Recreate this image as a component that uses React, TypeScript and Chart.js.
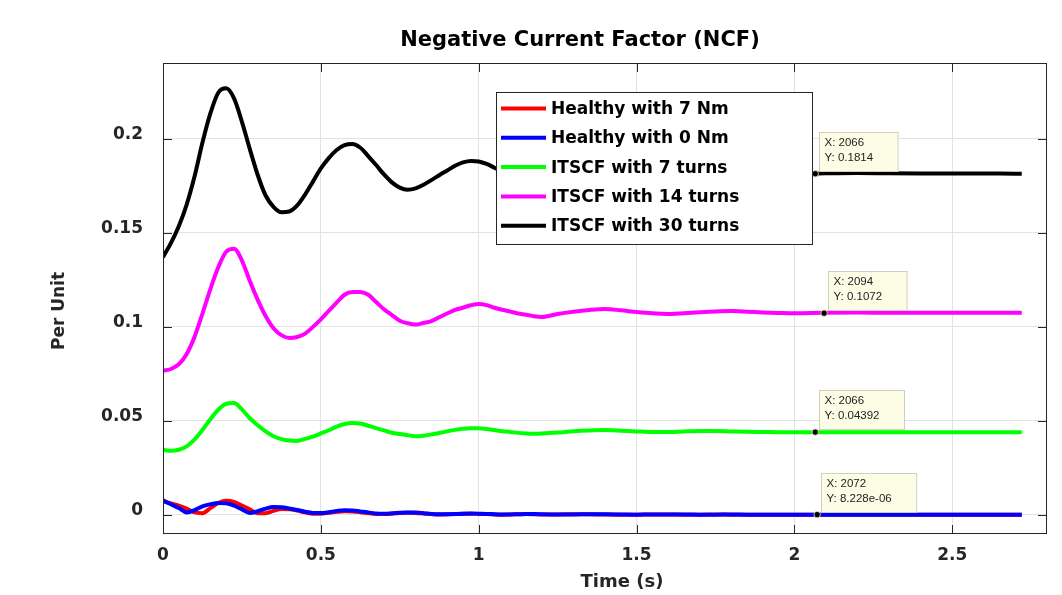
import React, { useEffect, useRef } from "react";
import { Chart, registerables } from "chart.js";

Chart.register(...registerables);

// ---- data (time in seconds, values in per unit) ----
const timeS = [
  0, 0.025, 0.05, 0.075, 0.1, 0.125, 0.15, 0.175, 0.2, 0.225,
  0.25, 0.275, 0.3, 0.325, 0.35, 0.375, 0.4, 0.425, 0.45, 0.475,
  0.5, 0.525, 0.55, 0.575, 0.6, 0.625, 0.65, 0.675, 0.7, 0.725,
  0.75, 0.775, 0.8, 0.825, 0.85, 0.875, 0.9, 0.925, 0.95, 0.975,
  1.0, 1.025, 1.05, 1.075, 1.1, 1.125, 1.15, 1.175, 1.2,
  1.25, 1.3, 1.35, 1.4, 1.45, 1.5, 1.55, 1.6, 1.65, 1.7,
  1.75, 1.8, 1.85, 1.9, 1.95, 2.0, 2.05,
  2.1, 2.2, 2.3, 2.4, 2.5, 2.6, 2.7, 2.72,
];

const healthy7Nm = [
  0.0072, 0.006, 0.0048, 0.0032, 0.0012, 0.0008, 0.0035, 0.0062, 0.0074, 0.0068,
  0.0048, 0.0028, 0.0008, 0.0008, 0.002, 0.003, 0.0029, 0.0022, 0.0012, 0.0005,
  0.0005, 0.001, 0.0015, 0.0018, 0.0017, 0.0013, 0.0008, 0.0004, 0.0003, 0.0005,
  0.0009, 0.001, 0.0009, 0.0006, 0.0003, 0.0001, 0.0002, 0.0004, 0.0005, 0.0005,
  0.0004, 0.0003, 0.0001, 0.0, 0.0001, 0.0002, 0.0003, 0.0002, 0.0001,
  0.0001, 0.0002, 0.0002, 0.0001, 0.0, 0.0, 0.0001, 0.0001, 0.0, 0.0,
  0.0001, 0.0, 0.0, 0.0, 0.0, 0.0, 0.0,
  0.0, 0.0, 0.0, 0.0, 0.0, 0.0, 0.0, 0.0,
];

const healthy0Nm = [
  0.0076, 0.0055, 0.0035, 0.0012, 0.0024, 0.0044, 0.0055, 0.0062, 0.006, 0.0048,
  0.0028, 0.0009, 0.0018, 0.0032, 0.004, 0.0039, 0.0033, 0.0025, 0.0015, 0.0009,
  0.0009, 0.0013, 0.0019, 0.0023, 0.0022, 0.0017, 0.0012, 0.0006, 0.0005, 0.0007,
  0.001, 0.0012, 0.0011, 0.0008, 0.0004, 0.0002, 0.0002, 0.0003, 0.0005, 0.0006,
  0.0005, 0.0004, 0.0002, 0.0001, 0.0001, 0.0002, 0.0003, 0.0003, 0.0002,
  0.0001, 0.0001, 0.0002, 0.0002, 0.0001, 0.0, 0.0001, 0.0001, 0.0001, 0.0,
  0.0, 0.0001, 0.0, 0.0, 0.0, 0.0, 0.0,
  0.0, 0.0, 0.0, 0.0, 0.0, 0.0, 0.0, 0.0,
];

const itscf7Turns = [
  0.0345, 0.034, 0.0345, 0.0363, 0.04, 0.0451, 0.0508, 0.0558, 0.059, 0.0594,
  0.056, 0.0513, 0.0476, 0.0443, 0.0417, 0.0402, 0.0394, 0.0392, 0.0403, 0.0415,
  0.0432, 0.0449, 0.0468, 0.0482, 0.0488, 0.0485, 0.0473, 0.046, 0.0448, 0.0436,
  0.0429, 0.0423, 0.0417, 0.042, 0.0427, 0.0434, 0.0443, 0.0451, 0.0457, 0.046,
  0.046, 0.0456, 0.045, 0.0444, 0.044, 0.0435, 0.0432, 0.0431, 0.0432,
  0.0437, 0.0444, 0.0448, 0.045, 0.0447, 0.0443, 0.044, 0.044, 0.0443, 0.0445,
  0.0445, 0.0443, 0.0441, 0.044, 0.0439, 0.0439, 0.0439,
  0.0439, 0.0439, 0.0439, 0.0439, 0.0439, 0.0439, 0.0439, 0.0439,
];

const itscf14Turns = [
  0.0765, 0.0775, 0.08, 0.0855, 0.0947, 0.107, 0.12, 0.1316, 0.1399, 0.1415,
  0.1352, 0.1243, 0.1143, 0.1057, 0.0992, 0.0955, 0.094, 0.0945, 0.0963, 0.0999,
  0.1039, 0.1084, 0.1128, 0.117, 0.1185, 0.1184, 0.117, 0.1131, 0.1093, 0.1062,
  0.1032, 0.1018, 0.1011, 0.102, 0.103, 0.105, 0.107, 0.1089, 0.1101, 0.1114,
  0.1121, 0.1115, 0.1101, 0.109, 0.108, 0.107, 0.1064, 0.1056, 0.1052,
  0.1068, 0.108, 0.1089, 0.1094, 0.1087, 0.1078, 0.1071, 0.1068, 0.1072, 0.1077,
  0.1081, 0.1083, 0.108, 0.1076, 0.1073, 0.1071, 0.1073,
  0.1074, 0.1075, 0.1074, 0.1074, 0.1074, 0.1074, 0.1074, 0.1074,
];

const itscf30Turns = [
  0.137, 0.1445, 0.1535, 0.165, 0.18, 0.198, 0.2135, 0.2245, 0.2268, 0.2215,
  0.209, 0.1945, 0.1807, 0.1698, 0.1638, 0.1609, 0.1613, 0.1645, 0.1703, 0.1772,
  0.1842, 0.1897, 0.194, 0.1966, 0.1972, 0.1952, 0.1908, 0.186, 0.181, 0.1768,
  0.174, 0.1729, 0.1736, 0.1755, 0.178, 0.1806, 0.1831, 0.1856, 0.1874, 0.1882,
  0.1879, 0.1866, 0.1846, 0.1825, 0.1808, 0.1795, 0.1788, 0.1785, 0.1788,
  0.1805, 0.1822, 0.1833, 0.1835, 0.1828, 0.1818, 0.181, 0.1807, 0.1809, 0.1815,
  0.1819, 0.182, 0.1818, 0.1815, 0.1813, 0.1813, 0.1814,
  0.1816, 0.1818, 0.1816, 0.1815, 0.1815, 0.1815, 0.1814, 0.1814,
];

const seriesLabels = [
  "Healthy with 7 Nm",
  "Healthy with 0 Nm",
  "ITSCF with 7 turns",
  "ITSCF with 14 turns",
  "ITSCF with 30 turns",
];
const seriesColors = ["#ff0000", "#0000ff", "#00ff00", "#ff00ff", "#000000"];
const seriesValues = [healthy7Nm, healthy0Nm, itscf7Turns, itscf14Turns, itscf30Turns];

const xTickValues = [0, 0.5, 1, 1.5, 2, 2.5];
const xTickLabels = ["0", "0.5", "1", "1.5", "2", "2.5"];
const yTickValues = [0, 0.05, 0.1, 0.15, 0.2];
const yTickLabels = ["0", "0.05", "0.1", "0.15", "0.2"];

// data tips (sample index, value)
const tipSampleX = [2066, 2094, 2066, 2072];
const tipValueY = [0.1814, 0.1072, 0.04392, 8.228e-6];
const tipValueText = ["0.1814", "0.1072", "0.04392", "8.228e-06"];

const chartTitle = "Negative Current Factor (NCF)";
const xAxisTitle = "Time (s)";
const yAxisTitle = "Per Unit";

const AXIS_COLOR = "#262626";
const BOLD_FONT = '"DejaVu Sans", "Liberation Sans", Arial, sans-serif';

const decorPlugin = {
  id: "matlabDecor",
  afterDatasetsDraw(chart: any) {
    const { ctx, chartArea: ca, scales } = chart;
    const xs = scales.x;
    const ys = scales.y;
    ctx.save();

    // axes box
    ctx.strokeStyle = AXIS_COLOR;
    ctx.lineWidth = 1;
    ctx.strokeRect(ca.left + 0.5, ca.top + 0.5, ca.right - ca.left - 1, ca.bottom - ca.top - 1);

    // inward ticks on all four sides
    const tl = 9;
    ctx.beginPath();
    xTickValues.forEach((v) => {
      const px = Math.round(xs.getPixelForValue(v)) + 0.5;
      ctx.moveTo(px, ca.bottom);
      ctx.lineTo(px, ca.bottom - tl);
      ctx.moveTo(px, ca.top);
      ctx.lineTo(px, ca.top + tl);
    });
    yTickValues.forEach((v) => {
      const py = Math.round(ys.getPixelForValue(v)) + 0.5;
      ctx.moveTo(ca.left, py);
      ctx.lineTo(ca.left + tl, py);
      ctx.moveTo(ca.right, py);
      ctx.lineTo(ca.right - tl, py);
    });
    ctx.stroke();

    // data tips
    ctx.font = '11.5px "Liberation Sans", Arial, sans-serif';
    tipSampleX.forEach((sx, i) => {
      const px = xs.getPixelForValue(sx / 1000);
      const py = ys.getPixelForValue(tipValueY[i]);
      const l1 = "X: " + sx;
      const l2 = "Y: " + tipValueText[i];
      const tw = Math.max(ctx.measureText(l1).width, ctx.measureText(l2).width);
      const w = Math.max(74, tw + 30);
      const h = 39;
      const bx = Math.round(px + 4) + 0.5;
      const by = Math.round(py - 3 - h) + 0.5;
      ctx.fillStyle = "#fdfde6";
      ctx.fillRect(bx, by, w, h);
      ctx.strokeStyle = "#cfcfbf";
      ctx.lineWidth = 1;
      ctx.strokeRect(bx, by, w, h);
      ctx.fillStyle = "#222222";
      ctx.textAlign = "left";
      ctx.textBaseline = "alphabetic";
      ctx.fillText(l1, bx + 5, by + 13);
      ctx.fillText(l2, bx + 5, by + 28);
      ctx.beginPath();
      ctx.arc(px, py, 3.2, 0, Math.PI * 2);
      ctx.fillStyle = "#000000";
      ctx.fill();
      ctx.strokeStyle = "#f5f0c0";
      ctx.lineWidth = 0.8;
      ctx.stroke();
    });

    // legend box inside the axes
    const lx = ca.left + 333;
    const ly = ca.top + 29;
    const lw = 316;
    const lh = 152;
    ctx.fillStyle = "#ffffff";
    ctx.fillRect(lx, ly, lw, lh);
    ctx.strokeStyle = AXIS_COLOR;
    ctx.lineWidth = 1;
    ctx.strokeRect(lx + 0.5, ly + 0.5, lw, lh);
    ctx.font = "bold 17px " + BOLD_FONT;
    ctx.textBaseline = "middle";
    ctx.textAlign = "left";
    seriesLabels.forEach((lab, i) => {
      const cy = ly + 16.5 + i * 29.3;
      ctx.strokeStyle = seriesColors[i];
      ctx.lineWidth = 4;
      ctx.beginPath();
      ctx.moveTo(lx + 5, cy);
      ctx.lineTo(lx + 50, cy);
      ctx.stroke();
      ctx.fillStyle = "#000000";
      ctx.fillText(lab, lx + 55, cy + 1);
    });

    ctx.restore();
  },
  afterDraw(chart: any) {
    const { ctx } = chart;
    ctx.save();
    ctx.fillStyle = "#000000";
    ctx.textAlign = "center";
    ctx.textBaseline = "alphabetic";
    ctx.font = "bold 21px " + BOLD_FONT;
    ctx.fillText(chartTitle, 580, 46);

    ctx.fillStyle = AXIS_COLOR;
    ctx.font = "bold 18px " + BOLD_FONT;
    ctx.fillText(xAxisTitle, 622, 587);

    ctx.font = "bold 17px " + BOLD_FONT;
    ctx.translate(64, 311);
    ctx.rotate(-Math.PI / 2);
    ctx.fillText(yAxisTitle, 0, 0);
    ctx.restore();
  },
};

export default function App() {
  const canvasRef = useRef<HTMLCanvasElement | null>(null);

  useEffect(() => {
    const canvas = canvasRef.current;
    if (!canvas) return;
    const order = [5, 4, 3, 2, 1];
    const datasets = seriesLabels.map((label, i) => ({
      label,
      data: timeS.map((t, k) => ({ x: t, y: seriesValues[i][k] })),
      borderColor: seriesColors[i],
      backgroundColor: seriesColors[i],
      borderWidth: 4,
      pointRadius: 0,
      cubicInterpolationMode: "monotone" as const,
      fill: false,
      order: order[i],
    }));

    const tickFont = { family: BOLD_FONT, size: 17, weight: "bold" as const };

    const chart = new Chart(canvas, {
      type: "line",
      data: { datasets },
      options: {
        animation: false,
        responsive: false,
        devicePixelRatio: 1,
        layout: { padding: { left: 0, right: 15, top: 63, bottom: 0 } },
        plugins: {
          legend: { display: false },
          title: { display: false },
          tooltip: { enabled: false },
        },
        scales: {
          x: {
            type: "linear",
            min: 0,
            max: 2.8,
            afterFit: (s: any) => {
              s.height = 61;
            },
            afterBuildTicks: (s: any) => {
              s.ticks = xTickValues.map((v) => ({ value: v }));
            },
            grid: { color: "#e2e2e2", lineWidth: 1, drawTicks: false },
            border: { display: false },
            ticks: {
              padding: 11,
              color: AXIS_COLOR,
              font: tickFont,
              maxRotation: 0,
              autoSkip: false,
              callback: (v: any) => {
                const idx = xTickValues.findIndex((t) => Math.abs(t - Number(v)) < 1e-9);
                return idx >= 0 ? xTickLabels[idx] : "";
              },
            },
          },
          y: {
            type: "linear",
            min: -0.0103,
            max: 0.2403,
            afterFit: (s: any) => {
              s.width = 163;
            },
            afterBuildTicks: (s: any) => {
              s.ticks = yTickValues.map((v) => ({ value: v }));
            },
            grid: { color: "#e2e2e2", lineWidth: 1, drawTicks: false },
            border: { display: false },
            ticks: {
              padding: 20,
              labelOffset: -4,
              color: AXIS_COLOR,
              font: tickFont,
              autoSkip: false,
              callback: (v: any) => {
                const idx = yTickValues.findIndex((t) => Math.abs(t - Number(v)) < 1e-9);
                return idx >= 0 ? yTickLabels[idx] : "";
              },
            },
          },
        },
      },
      plugins: [decorPlugin],
    });

    return () => {
      chart.destroy();
    };
  }, []);

  return (
    <div style={{ position: "fixed", left: 0, top: 0, width: 1062, height: 595, background: "#ffffff" }}>
      <canvas ref={canvasRef} width={1062} height={595} style={{ display: "block" }} />
    </div>
  );
}
